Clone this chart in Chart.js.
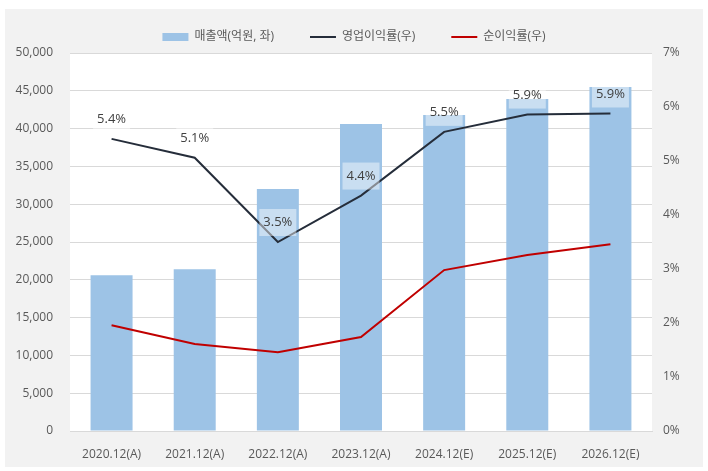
<!DOCTYPE html>
<html>
<head>
<meta charset="utf-8">
<script src="https://cdn.jsdelivr.net/npm/chart.js@4"></script>
<style>
  html, body { margin: 0; padding: 0; background: #ffffff; }
  #wrap { width: 708px; height: 471px; }
</style>
</head>
<body>
<div id="wrap"><canvas id="chart" width="708" height="471"></canvas></div>
<script>
// 데이터
const categories = ['2020.12(A)', '2021.12(A)', '2022.12(A)', '2023.12(A)', '2024.12(E)', '2025.12(E)', '2026.12(E)'];
const sales = [20600, 21400, 32000, 40600, 41800, 43900, 45500];          // 매출액(억원)
const opMargin = [5.41, 5.06, 3.50, 4.36, 5.54, 5.86, 5.88];              // 영업이익률(%)
const netMargin = [1.96, 1.61, 1.46, 1.74, 2.98, 3.26, 3.46];             // 순이익률(%)

const FONT = "'Open Sans', 'Noto Sans CJK KR', sans-serif";

// 배경: 회색 박스 + 흰색 차트 영역
const bgPlugin = {
    id: 'bg',
    beforeDraw(chart) {
        const c = chart.ctx, a = chart.chartArea;
        c.save();
        c.fillStyle = '#ffffff';
        c.fillRect(0, 0, chart.width, chart.height);
        c.fillStyle = '#f2f2f2';
        c.fillRect(5, 9, 698, 458);
        c.fillStyle = '#ffffff';
        c.fillRect(a.left, a.top, a.right - a.left, a.bottom - a.top);
        c.restore();
    }
};

// 영업이익률 라벨 (반투명 흰 박스)
const labelPlugin = {
    id: 'opLabels',
    afterDatasetsDraw(chart) {
        const c = chart.ctx;
        const meta = chart.getDatasetMeta(1);
        c.save();
        c.font = '13px ' + FONT;
        c.textAlign = 'center';
        c.textBaseline = 'middle';
        meta.data.forEach(function(pt, i) {
            const x = pt.x, y = pt.y - 19.5;
            c.fillStyle = 'rgba(255,255,255,0.45)';
            c.fillRect(x - 18.5, y - 13.5, 37, 27);
            c.fillStyle = '#404040';
            c.fillText(opMargin[i].toFixed(1) + '%', x, y);
        });
        c.restore();
    }
};

new Chart(document.getElementById('chart').getContext('2d'), {
    type: 'bar',
    data: {
        labels: categories,
        datasets: [
            {
                label: '매출액(억원, 좌)',
                data: sales,
                backgroundColor: '#9dc3e6',
                borderWidth: 0,
                barPercentage: 1,
                categoryPercentage: 0.505,
                yAxisID: 'y',
                order: 2,
                pointStyle: 'rect'
            },
            {
                type: 'line',
                label: '영업이익률(우)',
                data: opMargin,
                borderColor: '#252d3a',
                backgroundColor: '#252d3a',
                borderWidth: 2,
                pointRadius: 0,
                tension: 0,
                yAxisID: 'y1',
                order: 1,
                pointStyle: 'line'
            },
            {
                type: 'line',
                label: '순이익률(우)',
                data: netMargin,
                borderColor: '#c00000',
                backgroundColor: '#c00000',
                borderWidth: 2,
                pointRadius: 0,
                tension: 0,
                yAxisID: 'y1',
                order: 1,
                pointStyle: 'line'
            }
        ]
    },
    options: {
        responsive: false,
        animation: false,
        layout: { padding: { top: -5, left: 0, right: 0, bottom: 0 } },
        scales: {
            x: {
                grid: { display: false },
                border: { color: '#d9d9d9' },
                ticks: { color: '#595959', font: { family: FONT, size: 12 }, padding: 8 },
                afterFit: function(s) { s.height = 40; }
            },
            y: {
                position: 'left',
                min: 0,
                max: 50000,
                ticks: {
                    stepSize: 5000,
                    color: '#595959',
                    font: { family: FONT, size: 12 },
                    padding: 17,
                    callback: function(v) { return v.toLocaleString('en-US'); }
                },
                grid: { color: '#d9d9d9', drawTicks: false },
                border: { display: false },
                afterFit: function(s) { s.width = 70; }
            },
            y1: {
                position: 'right',
                min: 0,
                max: 7,
                ticks: {
                    stepSize: 1,
                    color: '#595959',
                    font: { family: FONT, size: 12 },
                    padding: 11,
                    callback: function(v) { return v + '%'; }
                },
                grid: { display: false, drawTicks: false },
                border: { display: false },
                afterFit: function(s) { s.width = 56; }
            }
        },
        plugins: {
            legend: {
                position: 'top',
                maxHeight: 61,
                labels: {
                    usePointStyle: true,
                    pointStyleWidth: 26,
                    boxHeight: 8,
                    padding: 36,
                    color: '#595959',
                    font: { family: FONT, size: 12 },
                    sort: function(a, b) { return a.datasetIndex - b.datasetIndex; }
                }
            },
            tooltip: { enabled: false }
        }
    },
    plugins: [bgPlugin, labelPlugin]
});
</script>
</body>
</html>
